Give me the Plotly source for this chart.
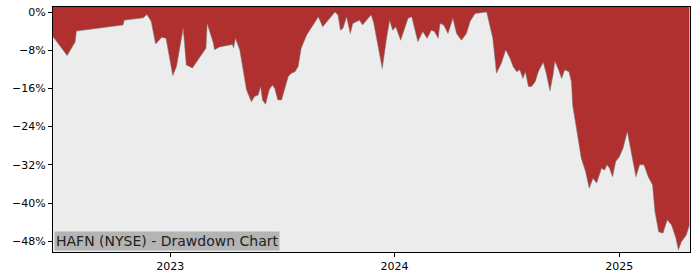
import plotly.graph_objects as go

dates = [
    "2022-06-24", "2022-06-26", "2022-07-17", "2022-07-30", "2022-08-01", "2022-10-16", "2022-10-18",
    "2022-11-18", "2022-11-24", "2022-12-01", "2022-12-08", "2022-12-18", "2022-12-25",
    "2023-01-05", "2023-01-11", "2023-01-17", "2023-01-22", "2023-01-27", "2023-02-06",
    "2023-02-28", "2023-03-02", "2023-03-12", "2023-03-14", "2023-03-22", "2023-04-12",
    "2023-04-14", "2023-04-17", "2023-04-24", "2023-04-29", "2023-05-05", "2023-05-13",
    "2023-05-18", "2023-05-24", "2023-05-28", "2023-05-31", "2023-06-05", "2023-06-11",
    "2023-06-16", "2023-06-20", "2023-06-25", "2023-07-01", "2023-07-06", "2023-07-12",
    "2023-07-17", "2023-07-23", "2023-07-28", "2023-08-02", "2023-08-11", "2023-08-16",
    "2023-08-24", "2023-08-30", "2023-09-06", "2023-09-15", "2023-09-26", "2023-10-01",
    "2023-10-05", "2023-10-09", "2023-10-15", "2023-10-21", "2023-10-25", "2023-11-05",
    "2023-11-10", "2023-11-19", "2023-11-24", "2023-11-28", "2023-12-03", "2023-12-12",
    "2023-12-19", "2023-12-24", "2023-12-29", "2024-01-03", "2024-01-11", "2024-01-18",
    "2024-01-23", "2024-01-29", "2024-02-08", "2024-02-16", "2024-02-23", "2024-03-01",
    "2024-03-06", "2024-03-12", "2024-03-15", "2024-03-21", "2024-03-28", "2024-04-05",
    "2024-04-11", "2024-04-19", "2024-04-27", "2024-05-03", "2024-05-11", "2024-05-30",
    "2024-06-03", "2024-06-09", "2024-06-15", "2024-06-23", "2024-06-30", "2024-07-07",
    "2024-07-12", "2024-07-18", "2024-07-23", "2024-07-28", "2024-08-01", "2024-08-06",
    "2024-08-11", "2024-08-17", "2024-08-22", "2024-08-30", "2024-09-04", "2024-09-10",
    "2024-09-15", "2024-09-18", "2024-09-24", "2024-09-29", "2024-10-04", "2024-10-11",
    "2024-10-15", "2024-10-17", "2024-10-24", "2024-10-31", "2024-11-07", "2024-11-13",
    "2024-11-19", "2024-11-25", "2024-12-03", "2024-12-08", "2024-12-12", "2024-12-16",
    "2024-12-21", "2024-12-26", "2025-01-01", "2025-01-07", "2025-01-14", "2025-01-21",
    "2025-01-28", "2025-02-03", "2025-02-10", "2025-02-17", "2025-02-24", "2025-02-28",
    "2025-03-06", "2025-03-13", "2025-03-20", "2025-03-27", "2025-04-03", "2025-04-07",
    "2025-04-12", "2025-04-20", "2025-04-25",
]

drawdown_pct = [
    -5.3, -5.5, -9.1, -6.3, -4.0, -2.7, -1.7,
    -1.2, -0.5, -2.0, -6.7, -5.3, -5.5,
    -13.3, -11.4, -6.9, -3.4, -11.1, -11.7,
    -7.6, -2.4, -6.5, -7.9, -7.3, -6.8,
    -7.5, -5.5, -7.9, -11.4, -16.3, -18.8,
    -17.7, -17.4, -15.6, -18.4, -19.3, -16.3,
    -15.3, -16.0, -18.4, -18.4, -16.0, -13.5,
    -12.8, -12.5, -11.4, -7.6, -4.8, -3.8,
    -2.4, -1.0, -3.1, -1.7, 0.0, -0.6,
    -3.8, -3.4, -1.0, -4.5, -2.4, -1.7,
    -2.7, -1.3, -0.6, -2.2, -5.5, -11.8,
    -5.5, -1.7, -3.8, -3.1, -5.9, -3.1,
    -1.3, -1.0, -6.2, -4.1, -5.5, -3.8,
    -4.1, -5.5, -2.4, -2.7, -4.5, -1.3,
    -4.5, -5.9, -4.5, -2.0, -0.3, 0.0,
    -2.4, -5.5, -12.8, -10.7, -7.9, -9.7,
    -11.4, -12.5, -12.1, -13.9, -12.5, -15.6,
    -15.6, -14.6, -12.5, -10.5, -12.8, -16.5,
    -13.2, -10.3, -12.1, -13.9, -12.1, -12.5,
    -14.6, -19.5, -25.0, -30.6, -33.4, -36.9,
    -34.8, -35.8, -32.7, -33.1, -32.0, -32.7,
    -34.5, -31.3, -30.3, -28.5, -25.0, -29.9,
    -34.5, -32.0, -32.0, -34.5, -36.2, -41.8,
    -46.0, -46.3, -43.5, -44.6, -47.3, -49.8,
    -48.1, -46.7, -44.6,
]

y_ticks = [0, -8, -16, -24, -32, -40, -48]
y_tick_labels = ["0%", "\u22128%", "\u221216%", "\u221224%", "\u221232%", "\u221240%", "\u221248%"]
x_ticks = ["2023-01-01", "2024-01-01", "2025-01-01"]
x_tick_labels = ["2023", "2024", "2025"]

Y_RANGE = [-50.25, 1.05]
X_RANGE = ["2022-06-24", "2025-04-26"]
title_text = "HAFN (NYSE) - Drawdown Chart"

RED = "#b03030"
BG = "#ececec"

fig = go.Figure()
# ceiling trace at top of axis range (fill target)
fig.add_trace(go.Scatter(
    x=dates, y=[Y_RANGE[1]] * len(dates), mode="lines",
    line=dict(width=0, color=RED), hoverinfo="skip", showlegend=False,
))
fig.add_trace(go.Scatter(
    x=dates, y=drawdown_pct, mode="lines",
    line=dict(width=0.7, color="rgba(120,120,120,0.8)"),
    fill="tonexty", fillcolor=RED, showlegend=False,
))

fig.update_layout(
    width=700, height=280,
    margin=dict(l=53, r=10, t=7, b=28),
    paper_bgcolor="white", plot_bgcolor=BG,
    font=dict(family="DejaVu Sans", size=11, color="black"),
    showlegend=False,
)
fig.update_xaxes(
    range=X_RANGE, tickvals=x_ticks, ticktext=x_tick_labels,
    showgrid=False, zeroline=False, showline=True, linecolor="black", linewidth=1.2,
    mirror=True, ticks="outside", ticklen=4, tickcolor="black",
    tickfont=dict(family="DejaVu Sans", size=11, color="black"),
)
fig.update_yaxes(
    range=Y_RANGE, tickvals=y_ticks, ticktext=y_tick_labels,
    showgrid=False, zeroline=False, showline=True, linecolor="black", linewidth=1.2,
    mirror=True, ticks="outside", ticklen=4, tickcolor="black",
    tickfont=dict(family="DejaVu Sans", size=11, color="black"),
)
fig.add_annotation(
    text=title_text, xref="paper", yref="paper", x=0, y=0,
    xanchor="left", yanchor="bottom", showarrow=False,
    font=dict(family="DejaVu Sans", size=14, color="#222222"),
    bgcolor="#b4b4b4", borderpad=1, xshift=1, yshift=1,
)

fig.write_html("out.html")
